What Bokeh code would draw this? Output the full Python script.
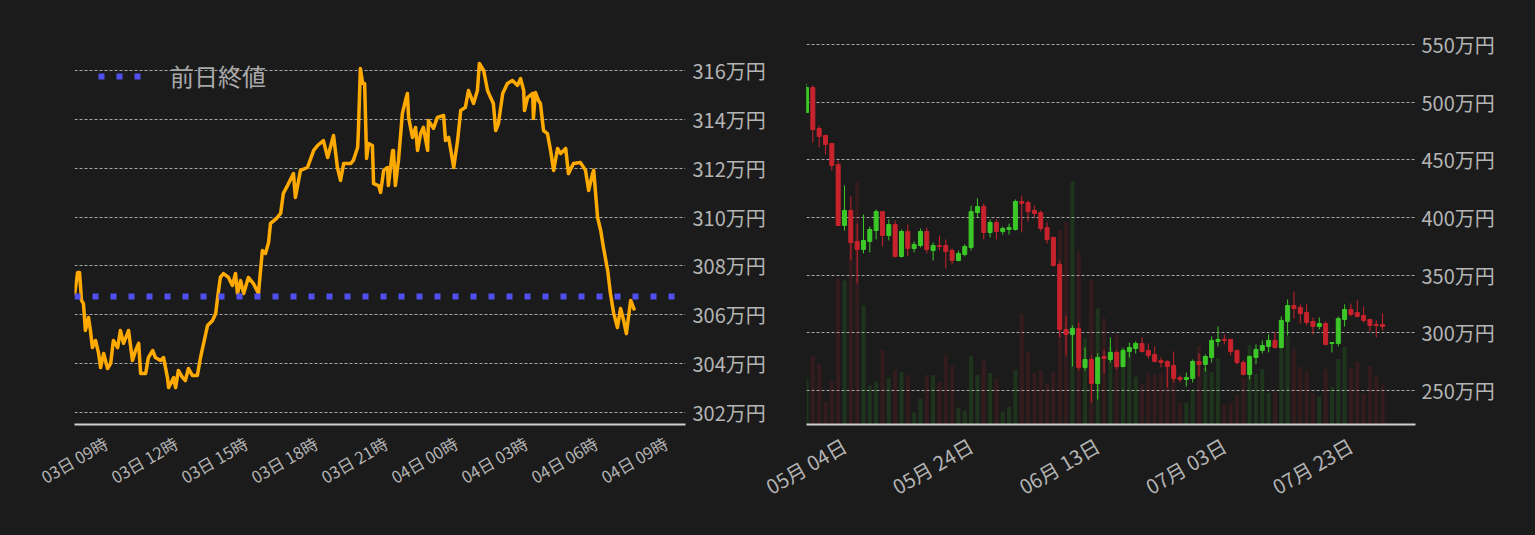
import math
from datetime import datetime, timedelta
from bokeh.plotting import figure
from bokeh.models import (Range1d, FixedTicker, PrintfTickFormatter, ColumnDataSource,
                          Legend, LegendItem)
from bokeh.layouts import row
from bokeh.embed import file_html
from bokeh.resources import INLINE

FONT = "Noto Sans CJK JP"
BG = "#1b1b1b"
GRID = "#b8b8b8"
TEXT = "#b4b4b4"
ORANGE = "#ffaa00"
BLUE = "#5050f0"
UP = "#3cc828"
DOWN = "#c8232d"

# ---------------- intraday data (minutes after 03日 09:00, price in 万円) ----------------
intraday_minutes = [
    0, 8, 13, 18, 23, 28, 36, 41, 46, 54, 62, 67, 75, 85, 93, 100, 111, 118, 126, 136,
    139, 149, 157, 165, 170, 183, 190, 201, 208, 221, 229, 239, 242, 255, 260, 267, 278, 285, 293, 303,
    316, 324, 332, 342, 355, 363, 368, 375, 383, 396, 406, 414, 419, 427, 435, 447, 460, 473, 483, 491,
    499, 504, 519, 530, 537, 548, 563, 568, 581, 599, 615, 625, 640, 651, 666, 676, 684, 692, 710, 717,
    728, 730, 735, 741, 746, 751, 756, 766, 769, 782, 787, 795, 805, 807, 818, 820, 825, 833, 843, 851,
    856, 859, 869, 877, 882, 890, 897, 908, 910, 923, 933, 949, 954, 962, 975, 985, 993, 1005, 1013, 1026,
    1036, 1041, 1052, 1062, 1070, 1077, 1083, 1090, 1101, 1113, 1126, 1139, 1147, 1155, 1157, 1165, 1178, 1180, 1185, 1193,
    1198, 1206, 1216, 1224, 1232, 1242, 1250, 1263, 1270, 1283, 1301, 1314, 1322, 1332, 1335, 1345, 1353, 1360, 1371, 1378,
    1386, 1396, 1404, 1412, 1419, 1430, 1440,
]
intraday_price = [
    306.80, 307.73, 307.73, 306.59, 306.46, 305.36, 305.89, 305.36, 304.66, 304.95, 304.42, 303.84, 304.42, 303.80, 304.01, 304.95, 304.66, 305.36, 304.83, 305.23,
    305.36, 304.13, 304.54, 304.83, 303.60, 303.60, 304.25, 304.54, 304.25, 304.13, 304.25, 303.43, 303.02, 303.43, 303.02, 303.72, 303.43, 303.31, 303.80, 303.52,
    303.52, 304.25, 304.83, 305.56, 305.77, 306.05, 306.71, 307.53, 307.69, 307.53, 307.20, 307.69, 306.87, 307.40, 306.87, 307.53, 307.28, 306.87, 308.63, 308.51,
    308.96, 309.74, 309.94, 310.15, 310.97, 311.30, 311.78, 310.80, 311.91, 312.03, 312.73, 312.93, 313.13, 312.44, 313.34, 312.03, 311.50, 312.19, 312.19, 312.32,
    312.85, 313.54, 316.08, 315.47, 315.47, 312.40, 313.01, 312.93, 311.37, 311.29, 311.01, 311.91, 312.03, 311.29, 312.73, 312.73, 311.29, 312.32, 314.24, 314.77,
    315.06, 314.08, 313.26, 313.67, 312.73, 313.42, 313.67, 312.73, 313.95, 313.63, 314.08, 314.16, 313.13, 313.26, 312.03, 313.13, 314.36, 314.49, 315.18, 314.65,
    315.18, 316.29, 316.00, 315.18, 314.89, 314.65, 313.54, 313.83, 315.06, 315.47, 315.59, 315.39, 315.67, 315.18, 314.36, 314.89, 315.06, 314.04, 315.10, 314.77,
    314.65, 313.54, 313.42, 312.73, 311.91, 312.81, 312.60, 312.81, 311.78, 312.19, 312.23, 311.91, 311.09, 311.78, 311.91, 309.98, 309.45, 308.76, 307.81, 306.87,
    306.09, 305.48, 306.26, 305.77, 305.23, 306.59, 306.18,
]
prev_close = 306.75
intraday_tick_hours = [0, 3, 6, 9, 12, 15, 18, 21, 24]
intraday_tick_labels = ["03日 09時", "03日 12時", "03日 15時", "03日 18時", "03日 21時",
                        "04日 00時", "04日 03時", "04日 06時", "04日 09時"]
intraday_y_ticks = [302, 304, 306, 308, 310, 312, 314, 316]

# ---------------- daily data (from 05月 04日, price in 万円) ----------------
daily_open = [
    491.0, 512.7, 477.2, 471.1, 464.2, 445.9, 393.1, 406.1, 379.2, 372.3,
    379.2, 388.7, 405.2, 384.4, 393.9, 366.2, 387.9, 373.1, 375.7, 387.9,
    371.4, 375.7, 375.7, 371.4, 362.7, 367.9, 374.0, 404.3, 409.5, 387.0,
    395.7, 387.9, 389.6, 389.6, 413.9, 413.0, 406.1, 404.3, 391.3, 382.7,
    359.3, 302.9, 298.6, 303.8, 270.0, 276.9, 256.1, 279.5, 276.9, 283.0,
    270.8, 283.8, 286.4, 290.8, 284.7, 281.2, 276.0, 275.2, 271.7, 261.3,
    259.6, 260.4, 275.2, 272.6, 278.6, 292.5, 294.3, 294.3, 284.7, 274.3,
    263.9, 278.6, 284.7, 288.2, 293.4, 287.3, 309.9, 323.7, 322.0, 317.6,
    309.9, 305.5, 308.1, 290.8, 290.8, 311.6, 320.2, 317.6, 315.0, 311.6,
    307.2, 307.2,
]
daily_high = [
    516.2, 514.5, 479.8, 472.0, 464.5, 449.4, 427.8, 418.2, 394.8, 402.6,
    392.2, 407.0, 405.6, 398.3, 397.4, 389.6, 393.9, 379.2, 390.5, 391.3,
    378.3, 384.4, 380.9, 373.1, 371.4, 376.6, 410.4, 416.5, 412.1, 398.3,
    398.3, 392.2, 394.8, 415.6, 419.1, 414.7, 410.4, 406.1, 395.7, 383.5,
    362.7, 315.0, 306.4, 309.0, 287.3, 280.4, 282.1, 284.7, 296.0, 284.7,
    286.4, 291.6, 292.5, 296.0, 290.8, 288.2, 278.6, 276.0, 283.8, 263.0,
    265.6, 276.9, 282.1, 281.2, 296.9, 305.5, 298.6, 294.6, 285.6, 276.0,
    280.4, 289.9, 293.4, 298.6, 300.3, 314.2, 328.9, 335.9, 324.6, 324.6,
    313.3, 313.3, 309.9, 291.8, 314.2, 324.6, 325.4, 328.0, 322.9, 311.8,
    310.7, 316.8,
]
daily_low = [
    490.2, 465.0, 460.7, 454.6, 440.8, 392.5, 388.7, 362.7, 342.8, 368.8,
    369.7, 380.9, 374.9, 380.1, 365.3, 365.3, 366.2, 369.7, 374.0, 368.8,
    362.7, 371.4, 355.8, 359.3, 361.9, 366.2, 371.4, 400.0, 380.9, 382.7,
    380.9, 385.3, 385.3, 388.7, 387.0, 396.5, 400.0, 387.9, 377.5, 357.5,
    296.0, 280.4, 270.8, 267.4, 267.4, 239.6, 242.2, 264.8, 274.3, 268.2,
    270.0, 278.6, 282.1, 283.0, 277.8, 274.3, 270.0, 252.6, 257.0, 257.0,
    253.5, 257.0, 262.2, 266.5, 274.3, 288.2, 289.9, 280.4, 272.6, 263.0,
    259.6, 272.6, 282.1, 283.0, 286.4, 286.4, 297.7, 312.4, 308.1, 306.4,
    298.6, 302.9, 289.9, 283.0, 288.2, 305.5, 314.2, 313.3, 309.0, 301.2,
    296.0, 302.0,
]
daily_close = [
    512.7, 476.3, 470.2, 463.3, 445.1, 393.1, 406.1, 378.3, 372.3, 380.1,
    389.6, 405.2, 384.4, 393.9, 366.2, 387.9, 373.1, 376.6, 387.9, 372.3,
    375.7, 374.9, 370.6, 362.7, 368.8, 374.9, 405.2, 409.5, 387.0, 395.7,
    387.9, 390.5, 391.3, 413.9, 412.2, 405.2, 403.5, 390.5, 380.9, 358.4,
    302.9, 298.6, 303.8, 270.0, 276.9, 256.1, 278.6, 277.8, 283.0, 270.8,
    284.7, 287.3, 290.8, 283.8, 280.4, 275.2, 274.3, 270.8, 260.4, 259.6,
    261.3, 275.2, 272.6, 279.5, 293.4, 294.3, 293.4, 283.8, 274.3, 263.9,
    279.5, 285.6, 289.0, 293.4, 287.3, 310.7, 323.7, 321.1, 316.8, 309.0,
    305.5, 308.1, 289.9, 291.6, 312.4, 320.2, 315.9, 314.2, 310.7, 306.4,
    306.4, 305.5,
]
daily_volume = [
    1150, 1725, 1525, 575, 1075, 3675, 3625, 4600, 6125, 3000,
    975, 1075, 1875, 1175, 1375, 1325, 1250, 300, 650, 1250,
    1250, 1075, 1750, 1475, 425, 350, 1725, 1250, 1600, 1300,
    1150, 325, 450, 1375, 2800, 1825, 1300, 1375, 1025, 1325,
    4900, 5100, 6125, 4350, 2175, 3650, 2925, 2675, 1950, 2275,
    1950, 1950, 1200, 1000, 1300, 1275, 1300, 1600, 1475, 550,
    550, 875, 1975, 1425, 1325, 1675, 500, 525, 750, 1175,
    2000, 1275, 1400, 800, 825, 1975, 2225, 1900, 1450, 1350,
    775, 700, 1400, 950, 1650, 1950, 1425, 1575, 775, 1475,
    1225, 1000,
]
daily_tick_days = [0, 20, 40, 60, 80]
daily_tick_labels = ["05月 04日", "05月 24日", "06月 13日", "07月 03日", "07月 23日"]
daily_y_ticks = [250, 300, 350, 400, 450, 500, 550]

EPOCH = datetime(1970, 1, 1)


def to_ms(dt):
    return int(round((dt - EPOCH).total_seconds() * 1000))


def style_common(p, y_font):
    p.background_fill_color = BG
    p.border_fill_color = BG
    p.outline_line_color = None
    p.xgrid.grid_line_color = None
    p.ygrid.grid_line_color = GRID
    p.ygrid.grid_line_dash = "3 2"
    p.ygrid.grid_line_width = 1
    p.ygrid.grid_line_alpha = 0.9
    ya = p.yaxis[0]
    ya.formatter = PrintfTickFormatter(format="%d万円")
    ya.axis_line_color = None
    ya.major_tick_line_color = None
    ya.minor_tick_line_color = None
    ya.major_label_text_font = FONT
    ya.major_label_text_font_size = y_font
    ya.major_label_text_color = TEXT
    xa = p.xaxis[0]
    xa.axis_line_color = "#cfcfcf"
    xa.axis_line_width = 2
    xa.major_tick_line_color = None
    xa.minor_tick_line_color = None
    xa.major_label_text_font = FONT
    xa.major_label_text_color = TEXT
    xa.major_label_orientation = math.pi / 6


def set_x_labels(axis, tick_times, labels, shift):
    # labels are centred on their time: the axis anchors rotated labels at their end,
    # so each tick is moved by half a label's run and the text is given explicitly.
    ticks = [to_ms(t + shift) for t in tick_times]
    axis.ticker = FixedTicker(ticks=ticks)
    axis.major_label_overrides = {tk: lab for tk, lab in zip(ticks, labels)}


# ---------------- left: intraday ----------------
t0 = datetime(2022, 8, 3, 9, 0)
times = [t0 + timedelta(minutes=m) for m in intraday_minutes]
L_W, L_H = 769, 530
L_TOP, L_BOT, L_LEFT, L_RIGHT = 38, 106, 74, 84
ly0, ly1 = 301.51, 317.31
lx1 = t0 + timedelta(minutes=1571)

p1 = figure(width=L_W, height=L_H, x_axis_type="datetime", y_axis_location="right",
            x_range=Range1d(t0, lx1), y_range=Range1d(ly0, ly1),
            output_backend="svg", toolbar_location=None,
            min_border_left=L_LEFT, min_border_right=L_RIGHT,
            min_border_top=L_TOP, min_border_bottom=L_BOT)
style_common(p1, "20px")
p1.yaxis[0].ticker = FixedTicker(ticks=intraday_y_ticks)
p1.yaxis[0].major_label_standoff = 1
p1.xaxis[0].major_label_text_font_size = "16.5px"
p1.xaxis[0].major_label_standoff = 11
set_x_labels(p1.xaxis[0], [t0 + timedelta(hours=h) for h in intraday_tick_hours],
             intraday_tick_labels, timedelta(minutes=81))

p1.line(x=times, y=intraday_price, line_color=ORANGE, line_width=3.5, line_join="round")
r_prev = p1.line(x=[t0, lx1], y=[prev_close, prev_close], line_color=BLUE,
                 line_width=6, line_dash="6 12")

legend = Legend(items=[LegendItem(label="前日終値", renderers=[r_prev])],
                location=(4, 311), padding=20,
                glyph_width=44, glyph_height=24, label_height=24, label_standoff=28,
                label_text_font=FONT, label_text_font_size="24px", label_text_color="#a8a8a8",
                background_fill_alpha=0, border_line_alpha=0)
p1.add_layout(legend)

# ---------------- right: daily candles ----------------
d0 = datetime(2022, 5, 4)
dates = [d0 + timedelta(days=i) for i in range(len(daily_open))]
colors = [UP if c >= o else DOWN for o, c in zip(daily_open, daily_close)]
src = ColumnDataSource(dict(
    date=dates, open=daily_open, high=daily_high, low=daily_low, close=daily_close,
    top=[max(o, c) for o, c in zip(daily_open, daily_close)],
    bottom=[min(o, c) for o, c in zip(daily_open, daily_close)],
    volume=daily_volume, color=colors))

OVERLAP = 12   # the right chart's transparent border slides under the left chart's labels
R_W, R_H = 758 + OVERLAP, 530
R_TOP, R_BOT, R_LEFT, R_RIGHT = 38, 106, 37 + OVERLAP, 112
ry0, ry1 = 220.5, 555.2
p2 = figure(width=R_W, height=R_H, x_axis_type="datetime", y_axis_location="right",
            x_range=Range1d(d0, d0 + timedelta(days=96.2)), y_range=Range1d(ry0, ry1),
            output_backend="svg", toolbar_location=None,
            min_border_left=R_LEFT, min_border_right=R_RIGHT,
            min_border_top=R_TOP, min_border_bottom=R_BOT)
style_common(p2, "20px")
p2.border_fill_alpha = 0
p2.styles = {"margin-left": "-%dpx" % OVERLAP}
p2.yaxis[0].ticker = FixedTicker(ticks=daily_y_ticks)
p2.yaxis[0].major_label_standoff = 0
p2.xaxis[0].major_label_text_font_size = "20px"
p2.xaxis[0].major_label_standoff = 13
set_x_labels(p2.xaxis[0], [d0 + timedelta(days=d) for d in daily_tick_days],
             daily_tick_labels, timedelta(days=6.0))
p2.extra_y_ranges = {"vol": Range1d(0, 9725)}

day_ms = 86400000
p2.vbar(x="date", top="volume", bottom=0, width=0.63 * day_ms, source=src,
        y_range_name="vol", fill_color="color", fill_alpha=0.15, line_color=None)
p2.segment(x0="date", y0="high", x1="date", y1="low", source=src,
           line_color="color", line_width=1)
p2.vbar(x="date", top="top", bottom="bottom", width=0.63 * day_ms, source=src,
        fill_color="color", line_color="color", line_width=1)

layout = row(p1, p2)
html = file_html(layout, INLINE, title="chart")
html = html.replace("<head>", "<head><style>html,body{background:%s;}</style>" % BG, 1)
open("out.html", "w").write(html)
